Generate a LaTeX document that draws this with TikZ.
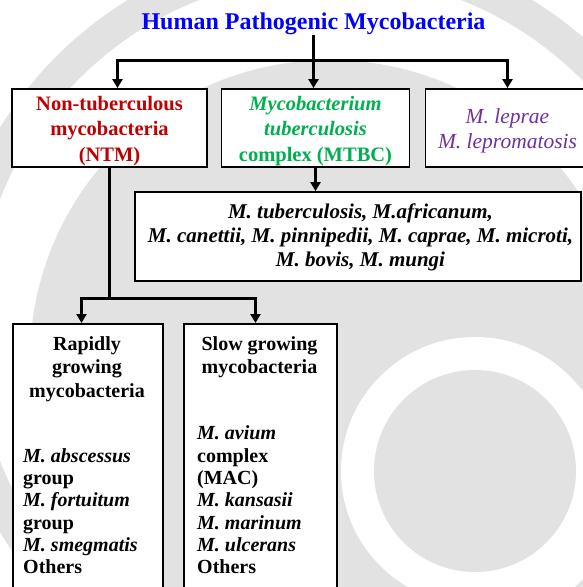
\documentclass[tikz,border=0pt]{standalone}
\usepackage{fontspec}
\setmainfont{Liberation Serif}
\usetikzlibrary{arrows.meta,calc}
\definecolor{ttlblue}{HTML}{0000FF}
\definecolor{ntmred}{HTML}{C00000}
\definecolor{mtbgreen}{HTML}{00B050}
\definecolor{leppurple}{HTML}{7030A0}
\definecolor{wmgray}{HTML}{E2E2E2}
\begin{document}
\begin{tikzpicture}[x=1pt,y=-1pt,
  box/.style={draw=black,line width=1.8pt,fill=white,rectangle,inner sep=0pt},
  conn/.style={line width=2.3pt,line cap=rect},
  arr/.style={conn,-{Triangle[length=9pt,width=10pt]}},
  topfont/.style={font=\bfseries\fontsize{20.5}{25.5}\selectfont,inner sep=0pt},
  lowfont/.style={font=\bfseries\fontsize{20}{22.3}\selectfont,inner sep=0pt}]
\useasboundingbox (0,0) rectangle (582,587);
% watermark
\fill[wmgray,even odd rule] (330,330) circle[radius=387pt] (330,330) circle[radius=355pt];
\fill[wmgray] (330,360) circle[radius=300pt];
\fill[white] (475,471) circle[radius=134pt];
\fill[wmgray] (475,471) circle[radius=101pt];
% title
\node[font=\bfseries\fontsize{24}{28}\selectfont,text=ttlblue,anchor=base,inner sep=2pt] (title) at (313.5,29) {Human Pathogenic Mycobacteria};
% top row boxes
\node[box,minimum width=195pt,minimum height=78pt] (ntm) at (109.5,128) {};
\node[box,minimum width=188pt,minimum height=78pt] (mtbc) at (315.5,128) {};
\node[box,minimum width=164pt,minimum height=78pt] (lep) at (507.5,128) {};
\node[topfont,text=ntmred,align=center] (ntmt) at ($(ntm.center)+(0,3)$) {Non-tuberculous\\mycobacteria\\(NTM)};
\node[topfont,text=mtbgreen,align=center] (mtbct) at ($(mtbc.center)+(0,3)$) {\textit{Mycobacterium}\\\textit{tuberculosis}\\complex (MTBC)};
\node[font=\itshape\fontsize{21.5}{25}\selectfont,text=leppurple,align=center,inner sep=0pt] (lept) at ($(lep.center)+(0,3)$) {M. leprae\\M. lepromatosis};
% species
\node[box,minimum width=446pt,minimum height=89pt] (spec) at (358,236.5) {};
\node[font=\bfseries\itshape\fontsize{21}{24}\selectfont,align=center,inner sep=0pt] (spect) at ($(spec.center)+(2.5,1)$) {M. tuberculosis, M.africanum,\\M. canettii, M. pinnipedii, M. caprae, M. microti,\\M. bovis, M. mungi};
% lower boxes
\node[box,anchor=north west,minimum width=150pt,minimum height=280pt] (rapid) at (12,323) {};
\node[box,anchor=north west,minimum width=153pt,minimum height=280pt] (slow) at (183,323) {};
\node[lowfont,align=center,anchor=north,font=\bfseries\fontsize{20}{23.5}\selectfont] (rapidh) at (87,336) {Rapidly\\growing\\mycobacteria};
\node[lowfont,align=center,anchor=north,font=\bfseries\fontsize{20}{23.5}\selectfont] (slowh) at (259.5,336) {Slow growing\\mycobacteria};
\node[lowfont,align=left,anchor=south west] (rapidl) at (23,574) {\textit{M. abscessus}\\group\\\textit{M. fortuitum}\\group\\\textit{M. smegmatis}\\Others};
\node[lowfont,align=left,anchor=south west] (slowl) at (197,574) {\textit{M. avium}\\complex\\(MAC)\\\textit{M. kansasii}\\\textit{M. marinum}\\\textit{M. ulcerans}\\Others};
% connectors
\draw[arr] (title.south) -- (title.south |- mtbc.north);
\coordinate (hl) at (117.5,60.5);
\coordinate (hr) at (507.5,60.5);
\draw[arr] (hr) -- (hl) -- (hl |- ntm.north);
\draw[arr] (hr) -- (hr |- lep.north);
\draw[arr] (mtbc.south) -- (mtbc.south |- spec.north);
\coordinate (bl) at (81.5,298.5);
\coordinate (br) at (255.5,298.5);
\draw[conn] (ntm.south) -- (ntm.south |- bl);
\draw[arr] (br) -- (bl) -- (bl |- rapid.north);
\draw[arr] (br) -- (br |- slow.north);
\end{tikzpicture}
\end{document}
